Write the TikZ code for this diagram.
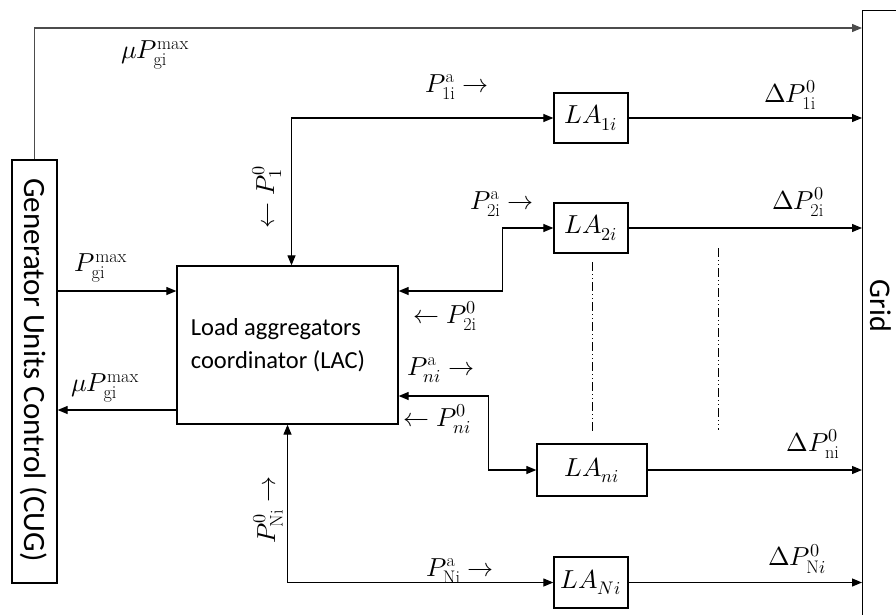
\documentclass[tikz,border=0pt]{standalone}
\usepackage{fontspec}
\usepackage{unicode-math}
\setmathfont{Latin Modern Math}
\newfontfamily\calib{Carlito}
\usetikzlibrary{arrows.meta,calc}
\begin{document}
\begin{tikzpicture}[x=1pt,y=-1pt,
  line width=1.2pt,
  box/.style={draw,line width=1.3pt,inner sep=0pt},
  arr/.style={-{Triangle[length=10pt,width=8pt]}},
  darr/.style={{Triangle[length=10pt,width=8pt]}-{Triangle[length=10pt,width=8pt]}},
  mlab/.style={font=\fontsize{26}{30}\selectfont, inner sep=0pt},
  labox/.style={box, font=\fontsize{26}{30}\selectfont, minimum width=74pt, minimum height=50pt},
  dd/.style={line width=1pt,dash pattern=on 9pt off 3pt on 1pt off 3pt on 1pt off 3pt}]
\useasboundingbox (0,0) rectangle (896,615);
\clip (0,0) rectangle (896,615);

% boxes
\node[box, minimum width=45pt, minimum height=423pt] (cug) at (34.5,371.5) {};
\node[rotate=-90, font=\calib\fontsize{31}{36}\selectfont, inner sep=0pt] (cugtext) at (34,370) {Generator Units Control (CUG)};
\node[box, minimum width=221pt, minimum height=158pt] (lac) at (287.5,345) {};
\node[align=left, font=\calib\fontsize{24.5}{33}\selectfont, inner sep=0pt] (lactext) at (278,345) {Load aggregators\\coordinator (LAC)};
\node[labox] (la1) at (591,118) {$LA_{1i}$};
\node[labox] (la2) at (591,228) {$LA_{2i}$};
\node[labox, minimum width=110pt, minimum height=52pt] (lani) at (592,470) {$LA_{ni}$};
\node[labox, minimum height=51pt] (laN) at (591,582.5) {$LA_{Ni}$};
\node[box, anchor=north west, minimum width=100pt, minimum height=700pt] (grid) at (862,10) {};
\node[rotate=-90, font=\calib\fontsize{30}{36}\selectfont, inner sep=0pt] (gridtext) at (881,306) {Grid};

% connectors
\coordinate (ytop) at (0,28);
\draw[arr, draw=black!70] (cug.north) |- (ytop -| grid.west);
\coordinate (lw1) at ([yshift=54pt]lac.west);
\draw[arr] (cug.east |- lw1) -- (lw1);
\coordinate (lw2) at ([yshift=-65pt]lac.west);
\draw[arr] (lw2) -- (cug.east |- lw2);
\coordinate (ln) at ([xshift=4pt]lac.north);
\draw[darr] (la1.west) -| (ln);
\coordinate (le1) at ([yshift=54pt]lac.east);
\draw[darr] (le1) -- ++(104,0) |- (la2.west);
\coordinate (le2) at ([yshift=-51pt]lac.east);
\draw[darr] (le2) -- ++(90,0) |- (lani.west);
\draw[darr] (lac.south) |- (laN.west);
\foreach \n in {la1,la2,lani,laN} \draw[arr] (\n.east) -- (\n.east -| grid.west);

% dash-dot continuation lines
\draw[dd] (592,262) -- (592,432);
\draw[dd] (718,248) -- (718,430);

% labels
\node[mlab] (l1) at (155,55) {$\mu P^{\mathrm{max}}_{\mathrm{gi}}$};
\node[mlab] (l2) at (457,87) {$P^{\mathrm{a}}_{\mathrm{1i}}\rightarrow$};
\node[mlab] (l3) at (790,95) {$\Delta P^{0}_{\mathrm{1i}}$};
\node[mlab] (l4) at (502,204) {$P^{\mathrm{a}}_{\mathrm{2i}}\rightarrow$};
\node[mlab] (l5) at (798,202) {$\Delta P^{0}_{\mathrm{2i}}$};
\node[mlab] (l6) at (101,268) {$P^{\mathrm{max}}_{\mathrm{gi}}$};
\node[mlab] (l7) at (105,388) {$\mu P^{\mathrm{max}}_{\mathrm{gi}}$};
\node[mlab] (l8) at (445,316) {$\leftarrow P^{0}_{\mathrm{2i}}$};
\node[mlab] (l9) at (441,370) {$P^{\mathrm{a}}_{ni}\rightarrow$};
\node[mlab] (l10) at (437,419) {$\leftarrow P^{0}_{ni}$};
\node[mlab] (l11) at (813,444) {$\Delta P^{0}_{\mathrm{ni}}$};
\node[mlab] (l12) at (460,571) {$P^{\mathrm{a}}_{\mathrm{Ni}}\rightarrow$};
\node[mlab] (l13) at (797,559) {$\Delta P^{0}_{\mathrm{N}i}$};
\node[mlab, rotate=90] (l14) at (267,197) {$\leftarrow P^{0}_{1}$};
\node[mlab, rotate=90] (l15) at (268,510) {$P^{0}_{\mathrm{Ni}}\rightarrow$};
\end{tikzpicture}
\end{document}
